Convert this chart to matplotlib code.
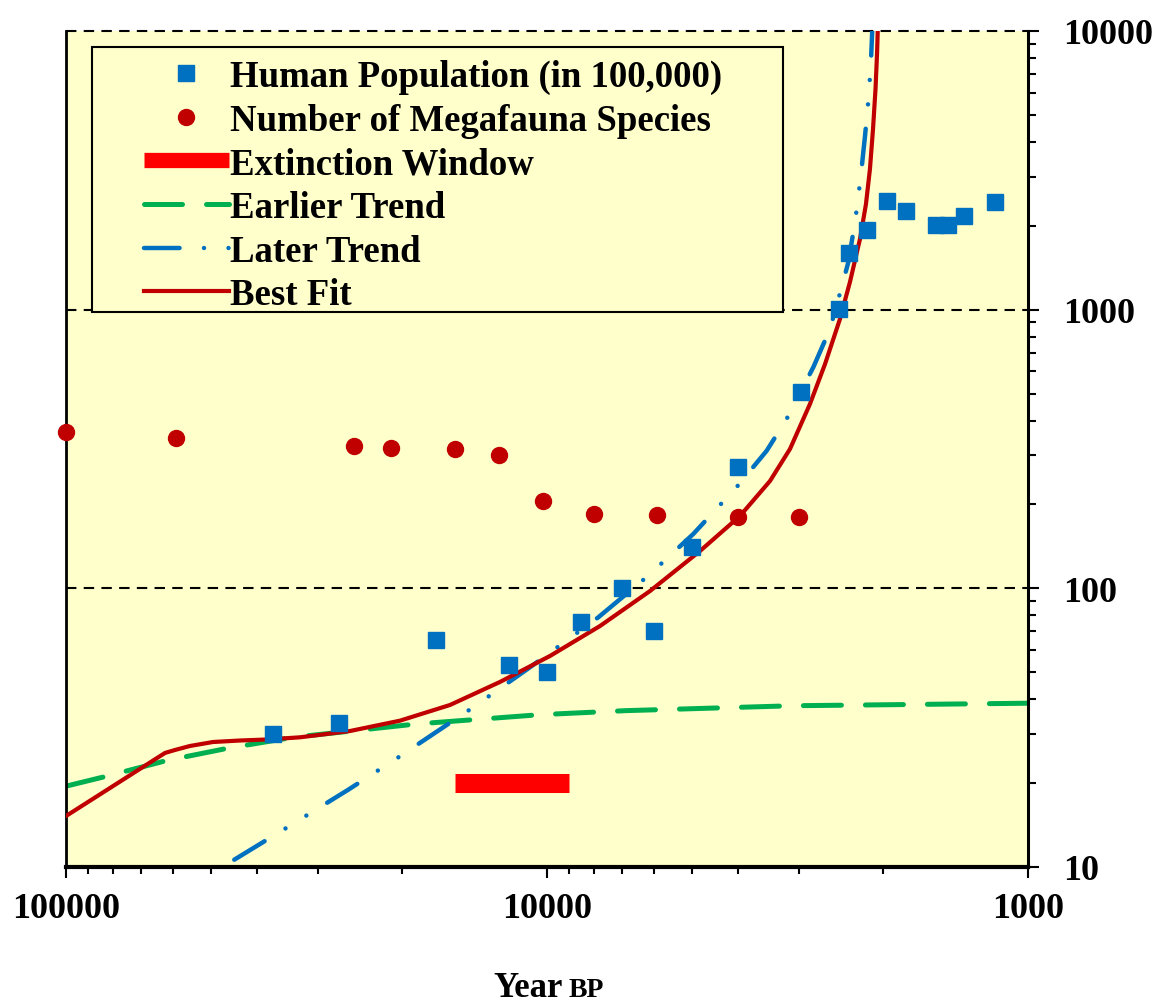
import matplotlib
matplotlib.use('Agg')
import matplotlib.pyplot as plt
from matplotlib.patches import Rectangle
from matplotlib.lines import Line2D
from matplotlib.ticker import FixedLocator, LogLocator, NullFormatter

plt.rcParams['font.family'] = ['Liberation Serif', 'DejaVu Serif']
plt.rcParams['font.weight'] = 'bold'

# human population (in 100,000)
pop_years = [37100, 27100, 17000, 12000, 10000, 8500, 7000, 6000, 5000, 4000,
             2970, 2470, 2360, 2160, 1960, 1790, 1550, 1470, 1360, 1170]
pop_values = [30, 33, 65, 53, 50, 76, 100, 70, 141, 272,
              505, 1006, 1600, 1930, 2460, 2265, 2010, 2010, 2170, 2430]

# number of megafauna species
mega_years = [100000, 59100, 25200, 21100, 15500, 12600, 10200, 8000, 5900, 4000, 3000]
mega_counts = [364, 346, 324, 319, 316, 301, 205, 185, 183, 181, 181]

# extinction window
ext_years = [15500, 9000]
ext_level = [20, 20]

# earlier trend
early_years = [100000, 83000, 61800, 46000, 33700, 18700, 10360, 6850, 3090, 1000]
early_values = [19.5, 21.1, 24.1, 26.7, 29.2, 32.6, 35.2, 36.4, 37.9, 38.7]

# later trend
late_years = [44690, 34500, 25890, 20220, 14340, 10850, 7823, 6158, 4964, 4022,
              3493, 3176, 2795, 2580, 2433, 2364, 2289, 2227, 2182, 2146, 2122, 2107]
late_values = [10.62, 13.95, 18.94, 24.96, 37.11, 52.08, 78.7, 111.0, 156.7, 232.3,
               311.8, 405.2, 621.1, 852.1, 1226, 1479, 2058, 3000, 4200, 5700, 7612, 10164]

# best fit
fit_years = [100000, 62260, 59350, 55240, 49490, 43480, 38210, 32620, 25680, 20220,
             15910, 12530, 9858, 7760, 6108, 4808, 3971, 3439, 3125, 2840,
             2642, 2460, 2345, 2235, 2172, 2131, 2100, 2075, 2060, 2051]
fit_values = [15.24, 25.66, 26.30, 27.18, 28.09, 28.44, 28.68, 29.20, 30.76, 33.50,
              38.14, 46.12, 57.18, 73.24, 97.8, 136.1, 181.8, 242.7, 316.2, 458.6,
              638.3, 925.6, 1257, 1793, 2394, 3197, 4448, 6193, 8267, 10594]

blue = '#0070C0'
dark_red = '#C00000'
green = '#00B050'

W, H = 1162, 1003
fig = plt.figure(figsize=(W / 100, H / 100), dpi=100)
ax = fig.add_axes([66 / W, 1 - 868 / H, 962 / W, 836 / H])
ax.set_facecolor('#FFFFCC')
ax.set_xscale('log')
ax.set_yscale('log')
ax.set_xlim(100000, 1000)
ax.set_ylim(10, 10000)

for yv in [100, 1000, 10000]:
    ax.axhline(yv, color='black', lw=1.5, dashes=(5, 3.5), zorder=1, clip_on=False)

early, = ax.plot(early_years, early_values, color=green, lw=3.6, dashes=(7.6, 4.8),
                 dash_capstyle='round', zorder=2)
late, = ax.plot(late_years, late_values, color=blue, lw=3.2,
                dashes=(8, 5.5, 0.01, 5.5, 0.01, 5.5), dash_capstyle='round', zorder=2)
fit, = ax.plot(fit_years, fit_values, color=dark_red, lw=3.0, zorder=3,
               solid_joinstyle='round')
ax.plot(ext_years, ext_level, color='#FF0000', lw=13.7, solid_capstyle='butt', zorder=3)

pop, = ax.plot(pop_years, pop_values, 's', color=blue, ms=12, zorder=4)
mega, = ax.plot(mega_years, mega_counts, 'o', color=dark_red, ms=11.5, zorder=4,
                clip_on=False)

# spines and ticks
ax.spines['top'].set_visible(False)
ax.spines['left'].set_linewidth(2)
ax.spines['right'].set_linewidth(2.2)
ax.spines['bottom'].set_linewidth(3)

ax.xaxis.set_major_locator(FixedLocator([100000, 10000, 1000]))
ax.xaxis.set_minor_locator(LogLocator(base=10, subs=range(2, 10)))
ax.xaxis.set_minor_formatter(NullFormatter())
ax.set_xticklabels(['100000', '10000', '1000'])
ax.tick_params(axis='x', which='major', direction='out', length=8, width=1.5,
               labelsize=26, pad=10)
ax.tick_params(axis='x', which='minor', direction='out', length=5, width=1.5)

ax.yaxis.tick_right()
ax.yaxis.set_major_locator(FixedLocator([10, 100, 1000, 10000]))
ax.yaxis.set_minor_locator(LogLocator(base=10, subs=range(2, 10)))
ax.yaxis.set_minor_formatter(NullFormatter())
ax.set_yticklabels(['10', '100', '1000', '10000'])
ax.tick_params(axis='y', which='major', direction='out', length=8, width=1.5,
               labelsize=26, pad=17)
ax.tick_params(axis='y', which='minor', direction='out', length=6, width=1.5)

# x axis title
fig.text(563 / W, 1 - 997 / H, 'Year', ha='right', va='baseline', fontsize=25)
fig.text(569 / W, 1 - 997 / H, 'BP', ha='left', va='baseline', fontsize=20)

# legend with its own frame
frame = Rectangle((92 / W, 1 - 313 / H), (783 - 92) / W, (313 - 48) / H,
                  transform=fig.transFigure, facecolor='#FFFFCC', edgecolor='black',
                  lw=1.5, zorder=5)
fig.patches.append(frame)

ext_handle = Line2D([], [], color='#FF0000', lw=11, solid_capstyle='butt')
leg = fig.legend([pop, mega, ext_handle, early, late, fit],
                 ['Human Population (in 100,000)', 'Number of Megafauna Species',
                  'Extinction Window', 'Earlier Trend', 'Later Trend', 'Best Fit'],
                 loc='center left', bbox_to_anchor=(144 / W, 1 - 186.5 / H),
                 frameon=False, borderpad=0, borderaxespad=0, handlelength=2.3,
                 handletextpad=0.05, labelspacing=0.235, fontsize=26.5, numpoints=1)
leg.set_zorder(6)

fig.savefig('out.png', dpi=100, facecolor='white')
